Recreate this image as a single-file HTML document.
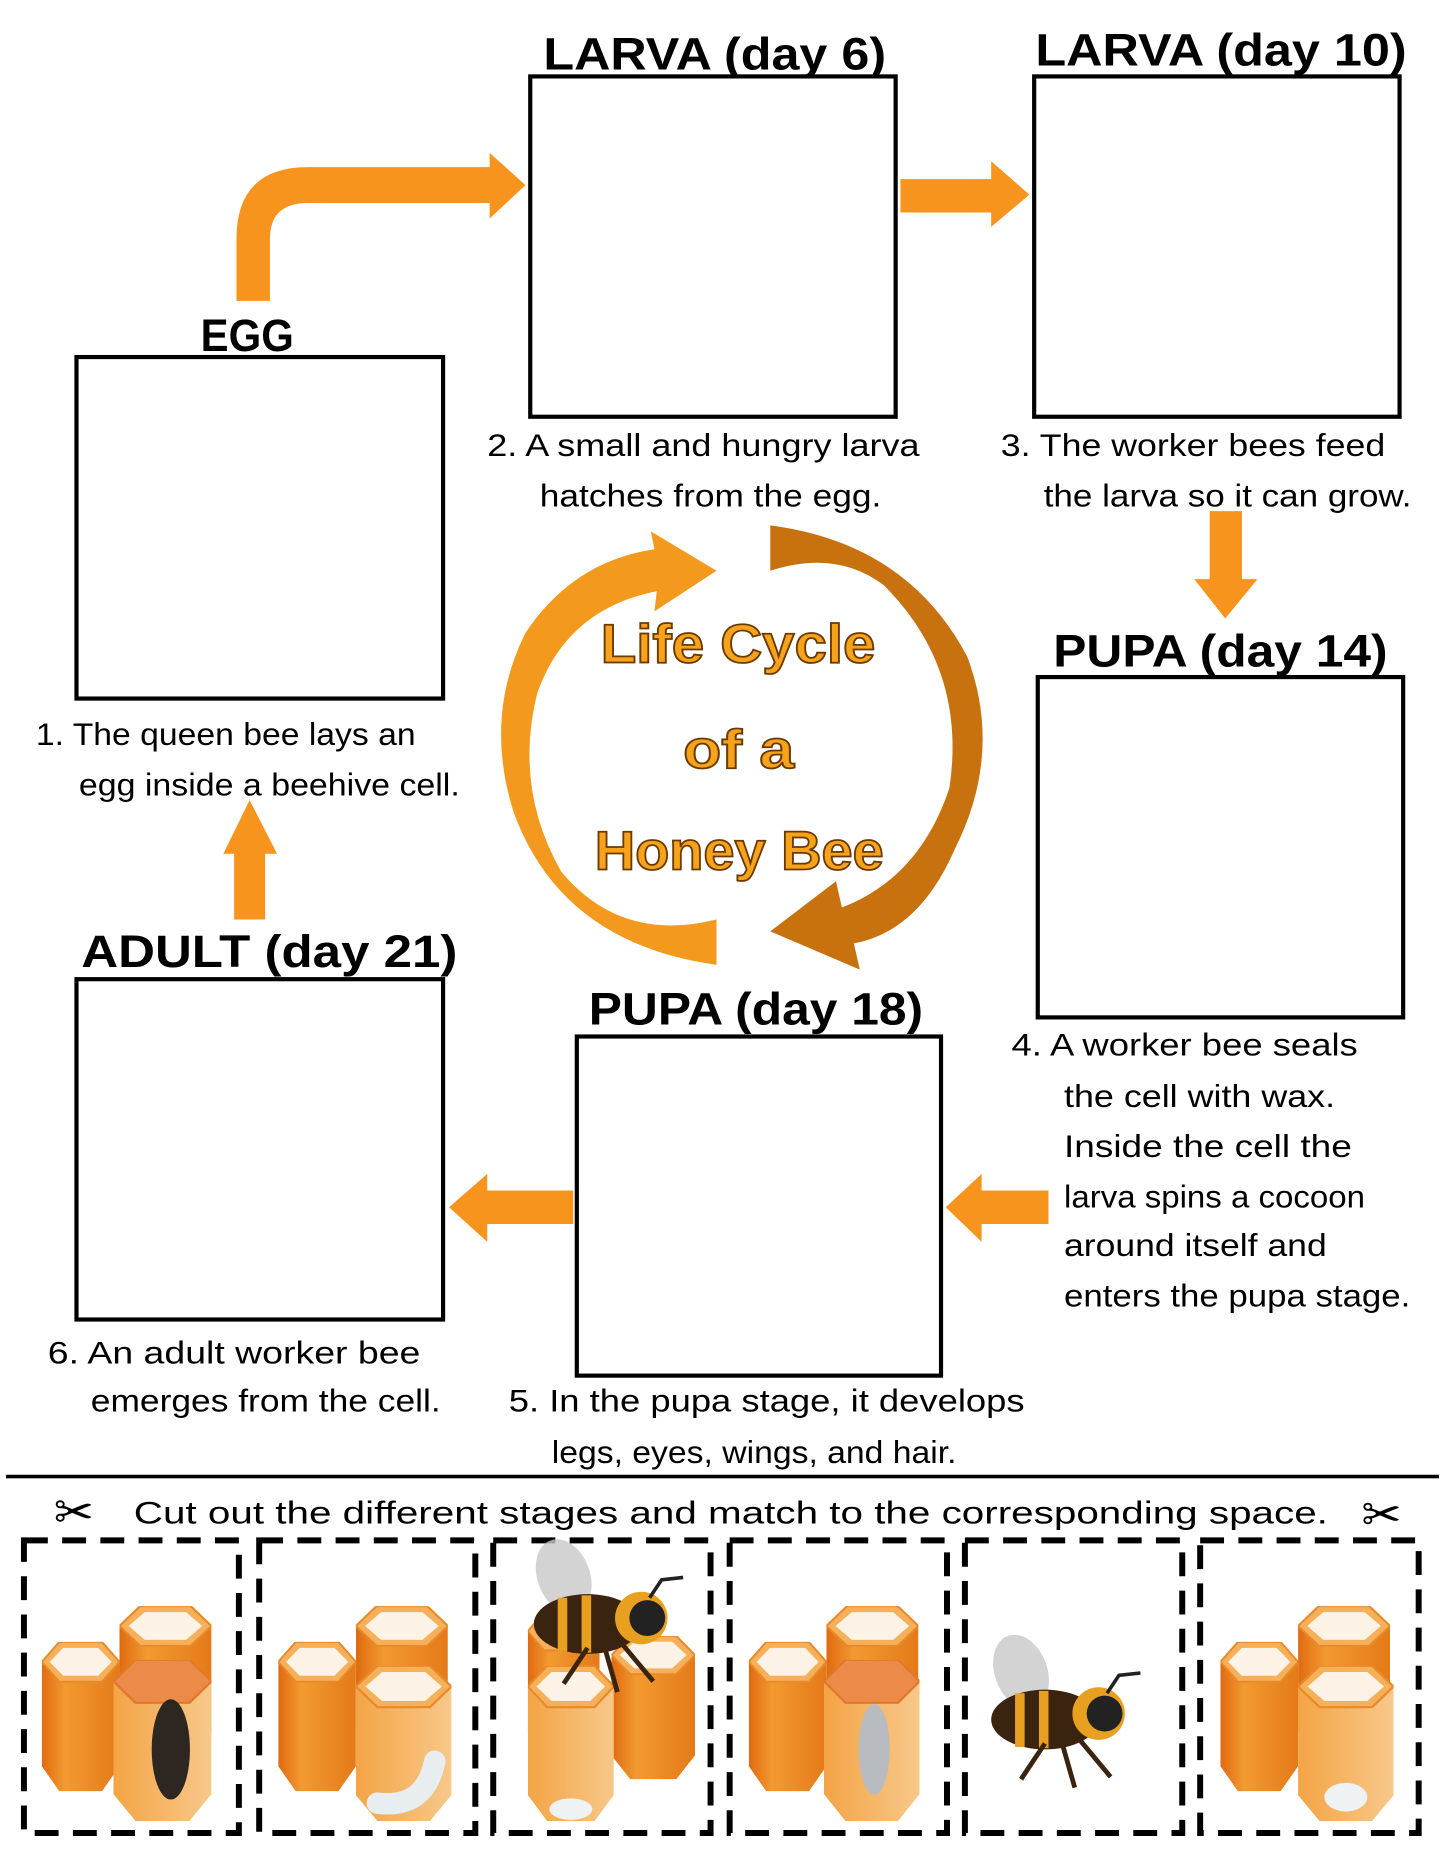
<!DOCTYPE html>
<html><head><meta charset="utf-8"><style>
html,body{margin:0;padding:0;background:#fff;}
svg{display:block;}
text{font-family:"Liberation Sans",sans-serif;}
.t{font-size:38px;font-weight:bold;fill:#000;}
.c{font-size:26px;fill:#000;}
.b{fill:#fff;stroke:#000;stroke-width:3.5;}
.a{fill:#f7941d;}
.big{font-size:46px;font-weight:bold;fill:#f7a21b;stroke:#6b3a00;stroke-width:1.5;}
.d{fill:none;stroke:#000;stroke-width:5;stroke-dasharray:20,12;}
</style></head><body>
<svg width="1445" height="1870" viewBox="0 0 1210 1566" xmlns="http://www.w3.org/2000/svg">
<defs>
<linearGradient id="g1" x1="0" x2="1"><stop offset="0" stop-color="#e06a10"/><stop offset="0.3" stop-color="#f29a30"/><stop offset="1" stop-color="#e47a18"/></linearGradient>
<linearGradient id="g2" x1="0" x2="1"><stop offset="0" stop-color="#f4a445"/><stop offset="1" stop-color="#f7c88a"/></linearGradient>
<symbol id="cell" viewBox="0 0 80 150" preserveAspectRatio="none">
<polygon points="0,20 0,125 18,150 62,150 80,125 80,20" fill="url(#g1)"/>
<polygon points="0,20 18,0 62,0 80,20 62,40 18,40" fill="#f6b05a" stroke="#e88a2a" stroke-width="2"/>
<polygon points="8,20 22,6 58,6 72,20 58,34 22,34" fill="#fdf2e6"/>
</symbol>
<symbol id="fcell" viewBox="0 0 80 150" preserveAspectRatio="none">
<polygon points="0,20 0,125 18,150 62,150 80,125 80,20" fill="url(#g2)"/>
<polygon points="0,20 18,0 62,0 80,20 62,40 18,40" fill="#f6b05a" stroke="#e88a2a" stroke-width="2"/>
<polygon points="8,20 22,6 58,6 72,20 58,34 22,34" fill="#fdf2e6"/>
</symbol>
<symbol id="ccell" viewBox="0 0 80 150" preserveAspectRatio="none">
<polygon points="0,20 0,125 18,150 62,150 80,125 80,20" fill="url(#g2)"/>
<polygon points="0,20 18,0 62,0 80,20 62,40 18,40" fill="#ec8a4a" stroke="#e07a2a" stroke-width="2"/>
</symbol>
<g id="comb">
<use href="#cell" x="17" y="85" width="65" height="125"/>
<use href="#cell" x="82" y="55" width="77" height="125"/>
</g>
<g id="bee">
<ellipse cx="40" cy="20" rx="22" ry="32" fill="#c8c8c8" opacity="0.8" transform="rotate(-20 40 20)"/>
<ellipse cx="60" cy="60" rx="45" ry="25" fill="#3a2410"/>
<rect x="35" y="38" width="8" height="45" fill="#e8a020"/>
<rect x="55" y="36" width="8" height="48" fill="#e8a020"/>
<circle cx="105" cy="55" r="22" fill="#e8a020"/>
<circle cx="110" cy="55" r="15" fill="#222"/>
<path d="M60 80 l-20 30 M75 82 l10 35 M90 78 l25 30" stroke="#3a2410" stroke-width="4"/>
<path d="M112 38 l10 -15 l18 -2" stroke="#222" stroke-width="3" fill="none"/>
</g>
</defs>

<!-- titles -->
<text class="t" x="455" y="58" textLength="287" lengthAdjust="spacingAndGlyphs">LARVA (day 6)</text>
<text class="t" x="867" y="55" textLength="311" lengthAdjust="spacingAndGlyphs">LARVA (day 10)</text>
<text class="t" x="168" y="294" textLength="78" lengthAdjust="spacingAndGlyphs">EGG</text>
<text class="t" x="882" y="558" textLength="280" lengthAdjust="spacingAndGlyphs">PUPA (day 14)</text>
<text class="t" x="68" y="810" textLength="315" lengthAdjust="spacingAndGlyphs">ADULT (day 21)</text>
<text class="t" x="493" y="858" textLength="280" lengthAdjust="spacingAndGlyphs">PUPA (day 18)</text>

<!-- boxes -->
<rect class="b" x="444" y="64" width="306" height="285"/>
<rect class="b" x="866" y="64" width="306" height="285"/>
<rect class="b" x="64" y="299" width="307" height="286"/>
<rect class="b" x="869" y="567" width="306" height="285"/>
<rect class="b" x="64" y="820" width="307" height="285"/>
<rect class="b" x="483" y="868" width="305" height="284"/>

<!-- captions -->
<text class="c" x="408" y="382" textLength="362" lengthAdjust="spacingAndGlyphs">2.  A small and hungry larva</text>
<text class="c" x="452" y="424" textLength="286" lengthAdjust="spacingAndGlyphs">hatches from the egg.</text>
<text class="c" x="838" y="382" textLength="322" lengthAdjust="spacingAndGlyphs">3. The worker bees feed</text>
<text class="c" x="874" y="424" textLength="308" lengthAdjust="spacingAndGlyphs">the larva so it can grow.</text>
<text class="c" x="30" y="624" textLength="318" lengthAdjust="spacingAndGlyphs">1. The queen bee lays an</text>
<text class="c" x="66" y="666" textLength="319" lengthAdjust="spacingAndGlyphs">egg inside a beehive cell.</text>
<text class="c" x="847" y="884" textLength="290" lengthAdjust="spacingAndGlyphs">4.  A worker bee seals</text>
<text class="c" x="891" y="927" textLength="227" lengthAdjust="spacingAndGlyphs">the cell with wax.</text>
<text class="c" x="891" y="969" textLength="241" lengthAdjust="spacingAndGlyphs">Inside the cell the</text>
<text class="c" x="891" y="1011" textLength="252" lengthAdjust="spacingAndGlyphs">larva spins a cocoon</text>
<text class="c" x="891" y="1052" textLength="220" lengthAdjust="spacingAndGlyphs">around itself and</text>
<text class="c" x="891" y="1094" textLength="290" lengthAdjust="spacingAndGlyphs">enters the pupa stage.</text>
<text class="c" x="40" y="1142" textLength="312" lengthAdjust="spacingAndGlyphs">6.  An adult worker bee</text>
<text class="c" x="76" y="1182" textLength="293" lengthAdjust="spacingAndGlyphs">emerges from the cell.</text>
<text class="c" x="426" y="1182" textLength="432" lengthAdjust="spacingAndGlyphs">5.  In the pupa stage, it develops</text>
<text class="c" x="462" y="1225" textLength="339" lengthAdjust="spacingAndGlyphs">legs, eyes, wings, and hair.</text>

<!-- arrows -->
<path class="a" d="M198 252 L198 200 Q198 140 258 140 L410 140 L410 128 L440 155 L410 183 L410 170 L258 170 Q226 170 226 200 L226 252 Z"/>
<polygon class="a" points="754,150 830,150 830,135 862,163 830,190 830,178 754,178"/>
<polygon class="a" points="1013,428 1040,428 1040,485 1053,485 1026,518 1000,485 1013,485"/>
<polygon class="a" points="878,997 822,997 822,983 792,1011 822,1040 822,1025 878,1025"/>
<polygon class="a" points="480,997 408,997 408,983 376,1011 408,1040 408,1025 480,1025"/>
<polygon class="a" points="196,770 222,770 222,715 232,715 209,670 187,715 196,715"/>

<!-- circle arrows -->
<path d="M600 808 Q470 790 430 680 Q405 600 440 530 Q480 470 548 460 L545 445 L600 478 L548 512 L550 495 Q475 510 450 580 Q430 660 470 730 Q520 790 600 770 Z" fill="#f39a1e"/>
<path d="M645 440 Q760 455 810 550 Q840 630 800 710 Q770 780 715 790 L720 812 L645 780 L700 738 L705 760 Q770 735 795 660 Q810 560 740 490 Q700 460 645 478 Z" fill="#c8710f"/>

<text class="big" x="503" y="555" textLength="230" lengthAdjust="spacingAndGlyphs">Life Cycle</text>
<text class="big" x="572" y="643" textLength="93" lengthAdjust="spacingAndGlyphs">of  a</text>
<text class="big" x="498" y="728" textLength="242" lengthAdjust="spacingAndGlyphs">Honey Bee</text>

<!-- cut line -->
<rect x="5" y="1235" width="1200" height="3" fill="#000"/>
<text x="45" y="1280" font-size="40" fill="#000">✂</text>
<text class="c" x="112" y="1276" font-size="30" textLength="1000" lengthAdjust="spacingAndGlyphs">Cut out the different stages and match to the corresponding space.</text>
<text x="1140" y="1282" font-size="40" fill="#000">✂</text>

<rect class="d" x="20" y="1290" width="180" height="245"/>
<rect class="d" x="217" y="1290" width="181" height="245"/>
<rect class="d" x="413" y="1290" width="182" height="245"/>
<rect class="d" x="611" y="1290" width="182" height="245"/>
<rect class="d" x="808" y="1290" width="182" height="245"/>
<rect class="d" x="1005" y="1290" width="183" height="245"/>

<!-- images -->
<g transform="translate(18,1290)">
<use href="#comb"/>
<use href="#ccell" x="77" y="100" width="82" height="135"/>
<ellipse cx="125" cy="175" rx="16" ry="42" fill="#2e2620"/>
</g>
<g transform="translate(216,1290)">
<use href="#comb"/>
<use href="#fcell" x="82" y="105" width="80" height="130"/>
<path d="M100 220 Q140 225 148 185" stroke="#e8eef0" stroke-width="18" fill="none" stroke-linecap="round"/>
</g>
<g transform="translate(412,1290)">
<use href="#cell" x="30" y="60" width="60" height="120"/>
<use href="#cell" x="100" y="80" width="70" height="120"/>
<use href="#fcell" x="30" y="105" width="72" height="130"/>
<ellipse cx="66" cy="225" rx="18" ry="9" fill="#eef2f2"/>
<use href="#bee" x="20" y="10"/>
</g>
<g transform="translate(610,1290)">
<use href="#comb"/>
<use href="#ccell" x="80" y="100" width="80" height="135"/>
<ellipse cx="122" cy="175" rx="13" ry="38" fill="#b8bcc0"/>
</g>
<g transform="translate(815,1380)">
<use href="#bee"/>
</g>
<g transform="translate(1005,1290)">
<use href="#comb"/>
<use href="#fcell" x="82" y="105" width="80" height="130"/>
<ellipse cx="122" cy="215" rx="18" ry="12" fill="#eef2f2"/>
</g>
</svg>
</body></html>
